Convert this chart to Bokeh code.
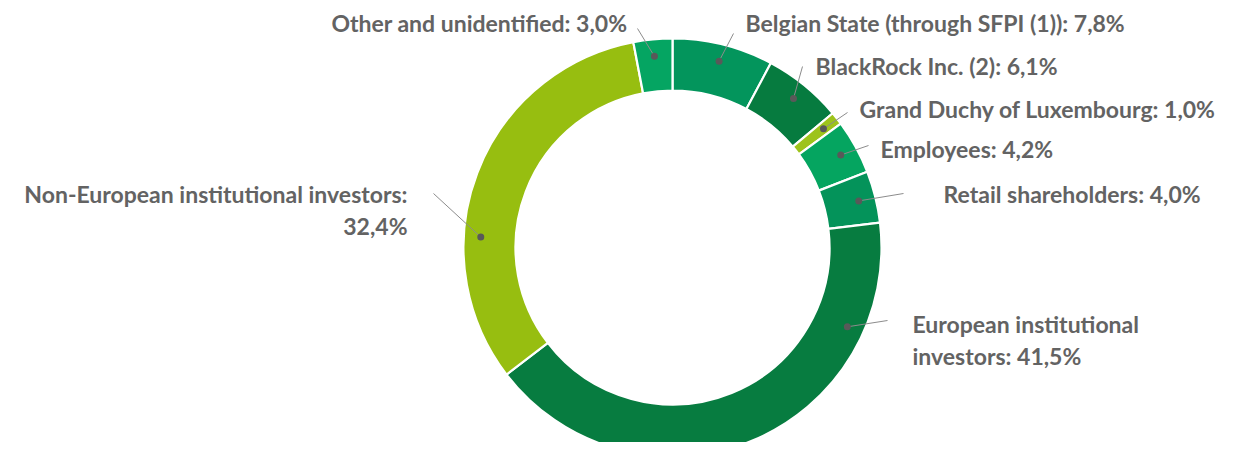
import numpy as np
from bokeh.plotting import figure
from bokeh.models import Range1d, ColumnDataSource
from bokeh.core.properties import value
from bokeh.embed import file_html
from bokeh.resources import INLINE

# ---- data (clockwise from 12 o'clock) ----
categories = [
    "Belgian State (through SFPI (1))",
    "BlackRock Inc. (2)",
    "Grand Duchy of Luxembourg",
    "Employees",
    "Retail shareholders",
    "European institutional investors",
    "Non-European institutional investors",
    "Other and unidentified",
]
shares = [7.8, 6.1, 1.0, 4.2, 4.0, 41.5, 32.4, 3.0]

# ---- styles ----
colors = ["#03955C", "#067B3F", "#9DC31B", "#05A560", "#04935A", "#077C40", "#97BE10", "#05A562"]
TEXT_COLOR = "#636363"
FONT = "Lato"
FS = "23px"

# ---- layout (image pixel coordinates) ----
W, H = 1224, 442
CX, CY = 672, 247
R_OUT, R_IN = 209, 157
DOT_R = 192
label_pos = [
    (745, 22, "left"),
    (815, 65, "left"),
    (859, 108, "left"),
    (880, 148, "left"),
    (943, 193, "left"),
    (912, 323, "left"),
    (407, 193, "right"),
    (627, 22, "right"),
]
leader_end = [(733, 33), (802, 66), (847, 112), (868, 145), (903, 193), (887, 320), (433, 193), (637, 28)]
dot_angle_override = {5: 114.4, 6: 273.1}
wrap_after = {5: "European institutional", 6: "Non-European institutional investors:"}
LINE_GAP = 32


def Y(y):
    return H - y


p = figure(width=W, height=H, x_range=Range1d(0, W), y_range=Range1d(0, H),
           output_backend="svg", toolbar_location=None, min_border=0)
p.axis.visible = False
p.grid.visible = False
p.outline_line_color = None
p.background_fill_color = "white"
p.border_fill_color = "white"

vals = np.array(shares, dtype=float)
frac = vals / vals.sum()
c1 = np.cumsum(frac)
c0 = c1 - frac
start = np.pi / 2 - 2 * np.pi * c1
end = np.pi / 2 - 2 * np.pi * c0

src = ColumnDataSource(dict(start=start, end=end, color=colors))
p.annular_wedge(x=CX, y=Y(CY), inner_radius=R_IN, outer_radius=R_OUT,
                start_angle="start", end_angle="end", fill_color="color",
                line_color="white", line_width=2.2, source=src)

# dots and leaders
mid_deg = (c0 + frac / 2) * 360
dx, dy = [], []
for i in range(len(shares)):
    a = np.deg2rad(dot_angle_override.get(i, mid_deg[i]))
    dx.append(CX + DOT_R * np.sin(a))
    dy.append(Y(CY - DOT_R * np.cos(a)))
lx = [[dx[i], leader_end[i][0]] for i in range(len(shares))]
ly = [[dy[i], Y(leader_end[i][1])] for i in range(len(shares))]
p.multi_line(xs=lx, ys=ly, line_color="#8C8C8C", line_width=1)
p.scatter(x=dx, y=dy, size=7, fill_color="#595959", line_color=None)

# labels
tx, ty, tt, ta = [], [], [], []
for i, (cat, v) in enumerate(zip(categories, shares)):
    pct = f"{v:.1f}%".replace(".", ",")
    full = f"{cat}: {pct}"
    if i in wrap_after:
        head = wrap_after[i]
        lines = [head, full[len(head):].strip()]
    else:
        lines = [full]
    x0, y0, al = label_pos[i]
    for k, ln in enumerate(lines):
        tx.append(x0)
        ty.append(Y(y0 + k * LINE_GAP))
        tt.append(ln)
        ta.append(al)

p.text(x=tx, y=ty, text=tt, text_align=ta, text_baseline="middle",
       text_font=value(FONT), text_font_size=FS, text_font_style="bold",
       text_color=TEXT_COLOR)

open("out.html", "w").write(file_html(p, INLINE))
